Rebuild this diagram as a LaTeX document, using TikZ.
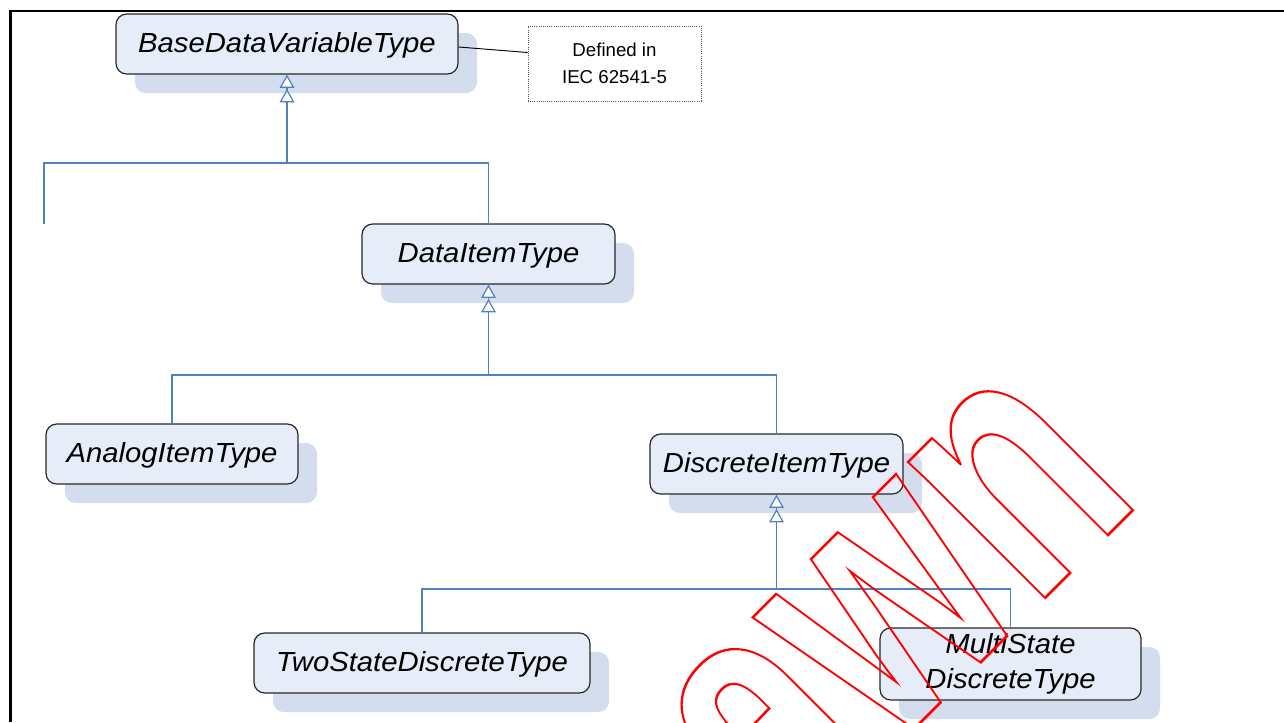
\documentclass[tikz,border=0pt]{standalone}
\usepackage{fontspec}
\setmainfont{Liberation Sans}
\newfontfamily\wmfont{Liberation Sans}
\newfontfamily\boxfont[FakeStretch=1.06]{Liberation Sans}
\usetikzlibrary{arrows.meta}
\definecolor{boxfill}{RGB}{231,237,248}
\definecolor{shadowc}{RGB}{211,221,237}
\definecolor{connc}{RGB}{79,129,189}
\definecolor{boxline}{RGB}{40,40,40}
\begin{document}
\begin{tikzpicture}[x=0.75pt,y=-0.75pt,
  cls/.style={draw=boxline, line width=0.9pt, fill=boxfill, rounded corners=8pt,
    inner sep=0pt, font=\boxfont\itshape\fontsize{20.7}{26.25}\selectfont, align=center,
    preaction={fill=shadowc, draw=none, transform canvas={shift={(14.25pt,-14.25pt)}}}},
  oneline/.style={text height=17pt, text depth=4.55pt},
  notebox/.style={draw=black!65, densely dotted, line width=0.6pt, fill=white,
    inner sep=0pt, font=\fontsize{14}{20}\selectfont, align=center},
  conn/.style={draw=connc, line width=0.9pt},
  inh/.style={conn, -{Triangle[open, fill=white, length=10pt, width=11pt, sep=0.8pt] Triangle[open, fill=white, length=10pt, width=11pt]}},
  frameline/.style={line width=2pt, black}
]
\useasboundingbox (0,0) rectangle (1284,722);
\clip (0,0) rectangle (1284,722);

% frame
\draw[frameline] (10.5,722) -- (10.5,11) -- (1284,11);

% classes
\node[cls, oneline, minimum width=256.5pt, minimum height=45pt] (base) at (287,44) {BaseDataVariableType};
\node[cls, oneline, minimum width=189.75pt, minimum height=45pt] (data) at (488.5,254) {DataItemType};
\node[cls, oneline, minimum width=189pt, minimum height=45pt] (analog) at (172,454) {AnalogItemType};
\node[cls, oneline, minimum width=189.75pt, minimum height=45pt] (discrete) at (776.5,464) {DiscreteItemType};
\node[cls, oneline, minimum width=252pt, minimum height=45pt] (twostate) at (422,663) {TwoStateDiscreteType};
\node[cls, minimum width=195.75pt, minimum height=54pt] (multistate) at (1010.5,664) {MultiState\\DiscreteType};

% note
\node[notebox, minimum width=129.75pt, minimum height=56.25pt] (note) at (614.5,63.5) {Defined in\\IEC 62541-5};
\draw[black, line width=0.7pt] ([yshift=-2.25pt]base.east) -- ([yshift=8.25pt]note.west);

% bar levels
\coordinate (y1) at (0,163);
\coordinate (y2) at (0,375);
\coordinate (y3) at (0,589);
\coordinate (offl) at (44,224);

% group 1
\draw[conn] (offl) -- (offl |- y1) -- (data.north |- y1) -- (data.north);
\draw[inh] (base.south |- y1) -- (base.south);
% group 2
\draw[conn] (analog.north) -- (analog.north |- y2) -- (discrete.north |- y2) -- (discrete.north);
\draw[inh] (data.south |- y2) -- (data.south);
% group 3
\draw[conn] (twostate.north) -- (twostate.north |- y3) -- (multistate.north |- y3) -- (multistate.north);
\draw[inh] (discrete.south |- y3) -- (discrete.south);

% watermark
\node[text=red, anchor=base west, inner sep=0pt, outer sep=0pt, rotate=45, xscale=0.71,
  font=\wmfont\bfseries\fontsize{274}{274}\selectfont] (wm) at (787.6,855.4)
  {\special{pdf:literal direct 1 Tr 1.9 w}awn\special{pdf:literal direct 0 Tr}};
\end{tikzpicture}
\end{document}
